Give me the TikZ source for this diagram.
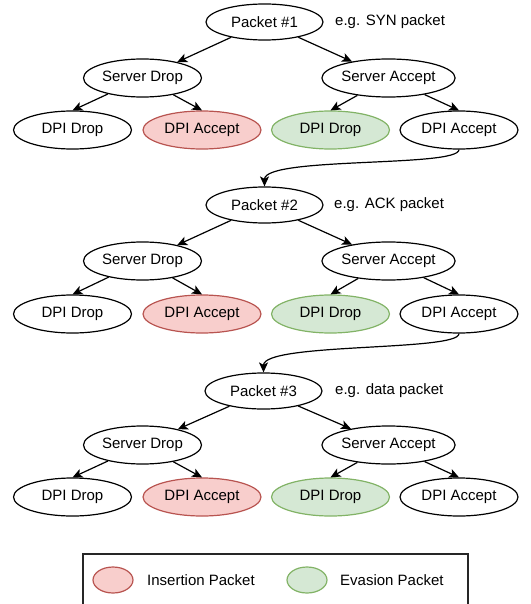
\documentclass[tikz,border=0pt]{standalone}
\usepackage{fontspec}
\setmainfont{Liberation Sans}
\usetikzlibrary{arrows.meta,shapes.geometric}
\definecolor{insfill}{HTML}{F8CECC}
\definecolor{insline}{HTML}{B85450}
\definecolor{evafill}{HTML}{D5E8D4}
\definecolor{evaline}{HTML}{82B366}
\tikzset{
  st/.style={draw, ellipse, line width=1.2pt, inner sep=0pt, minimum width=118pt, minimum height=38pt, font=\fontsize{15}{18}\selectfont},
  pk/.style={st, minimum width=117pt, minimum height=36pt},
  ins/.style={st, draw=insline, fill=insfill},
  eva/.style={st, draw=evaline, fill=evafill},
  lbl/.style={anchor=west, inner sep=0pt, font=\fontsize{15}{18}\selectfont},
  arr/.style={-{Stealth[length=10pt,width=9pt,inset=2.5pt]}, line width=1.2pt},
}
\begin{document}
\begin{tikzpicture}[x=1pt, y=-1pt]
\useasboundingbox (0,0) rectangle (530,604);
% first packet
\node[pk] (p1) at (264.5, 22) {Packet \#1};
\node[lbl] (e1) at (335, 22) {e.g. SYN packet};
\node[st] (sd1) at (142.5, 78) {Server Drop};
\node[st] (sa1) at (388.5, 78) {Server Accept};
\node[st] (sddd1) at (72.5, 130) {DPI Drop};
\node[ins] (sdda1) at (202, 130) {DPI Accept};
\node[eva] (sadd1) at (330.5, 130) {DPI Drop};
\node[st] (sada1) at (459, 130) {DPI Accept};
\draw[arr] (p1) -- (sd1);
\draw[arr] (p1) -- (sa1);
\draw[arr] (sd1) -- (sddd1.north);
\draw[arr] (sd1) -- (sdda1.north);
\draw[arr] (sa1) -- (sadd1.north);
\draw[arr] (sa1) -- (sada1.north);
% second packet
\node[pk] (p2) at (264.5, 205) {Packet \#2};
\node[lbl] (e2) at (334, 205) {e.g. ACK packet};
\node[st] (sd2) at (142.5, 261) {Server Drop};
\node[st] (sa2) at (388.5, 261) {Server Accept};
\node[st] (sddd2) at (72.5, 314) {DPI Drop};
\node[ins] (sdda2) at (202, 314) {DPI Accept};
\node[eva] (sadd2) at (330.5, 314) {DPI Drop};
\node[st] (sada2) at (459, 314) {DPI Accept};
\draw[arr] (p2) -- (sd2);
\draw[arr] (p2) -- (sa2);
\draw[arr] (sd2) -- (sddd2.north);
\draw[arr] (sd2) -- (sdda2.north);
\draw[arr] (sa2) -- (sadd2.north);
\draw[arr] (sa2) -- (sada2.north);
% third packet
\node[pk] (p3) at (263.5, 391) {Packet \#3};
\node[lbl] (e3) at (335, 391) {e.g. data packet};
\node[st] (sd3) at (142.5, 445) {Server Drop};
\node[st] (sa3) at (388.5, 445) {Server Accept};
\node[st] (sddd3) at (72.5, 497) {DPI Drop};
\node[ins] (sdda3) at (202, 497) {DPI Accept};
\node[eva] (sadd3) at (330.5, 497) {DPI Drop};
\node[st] (sada3) at (459, 497) {DPI Accept};
\draw[arr] (p3) -- (sd3);
\draw[arr] (p3) -- (sa3);
\draw[arr] (sd3) -- (sddd3.north);
\draw[arr] (sd3) -- (sdda3.north);
\draw[arr] (sa3) -- (sadd3.north);
\draw[arr] (sa3) -- (sada3.north);
% links between packets
\draw[arr] (sada1.south) .. controls +(0,18) and +(0,-30) .. (p2.north);
\draw[arr] (sada2.south) .. controls +(0,18) and +(0,-30) .. (p3.north);
% legend
\draw[line width=1.2pt, draw=black!85] (83,554) rectangle (468,620);
\node[ins, minimum width=40pt, minimum height=26pt] (legins) at (113, 580) {};
\node[lbl] (legt1) at (147, 580) {Insertion Packet};
\node[eva, minimum width=40pt, minimum height=26pt] (legeva) at (307, 580) {};
\node[lbl] (legt2) at (340, 580) {Evasion Packet};
\end{tikzpicture}
\end{document}
